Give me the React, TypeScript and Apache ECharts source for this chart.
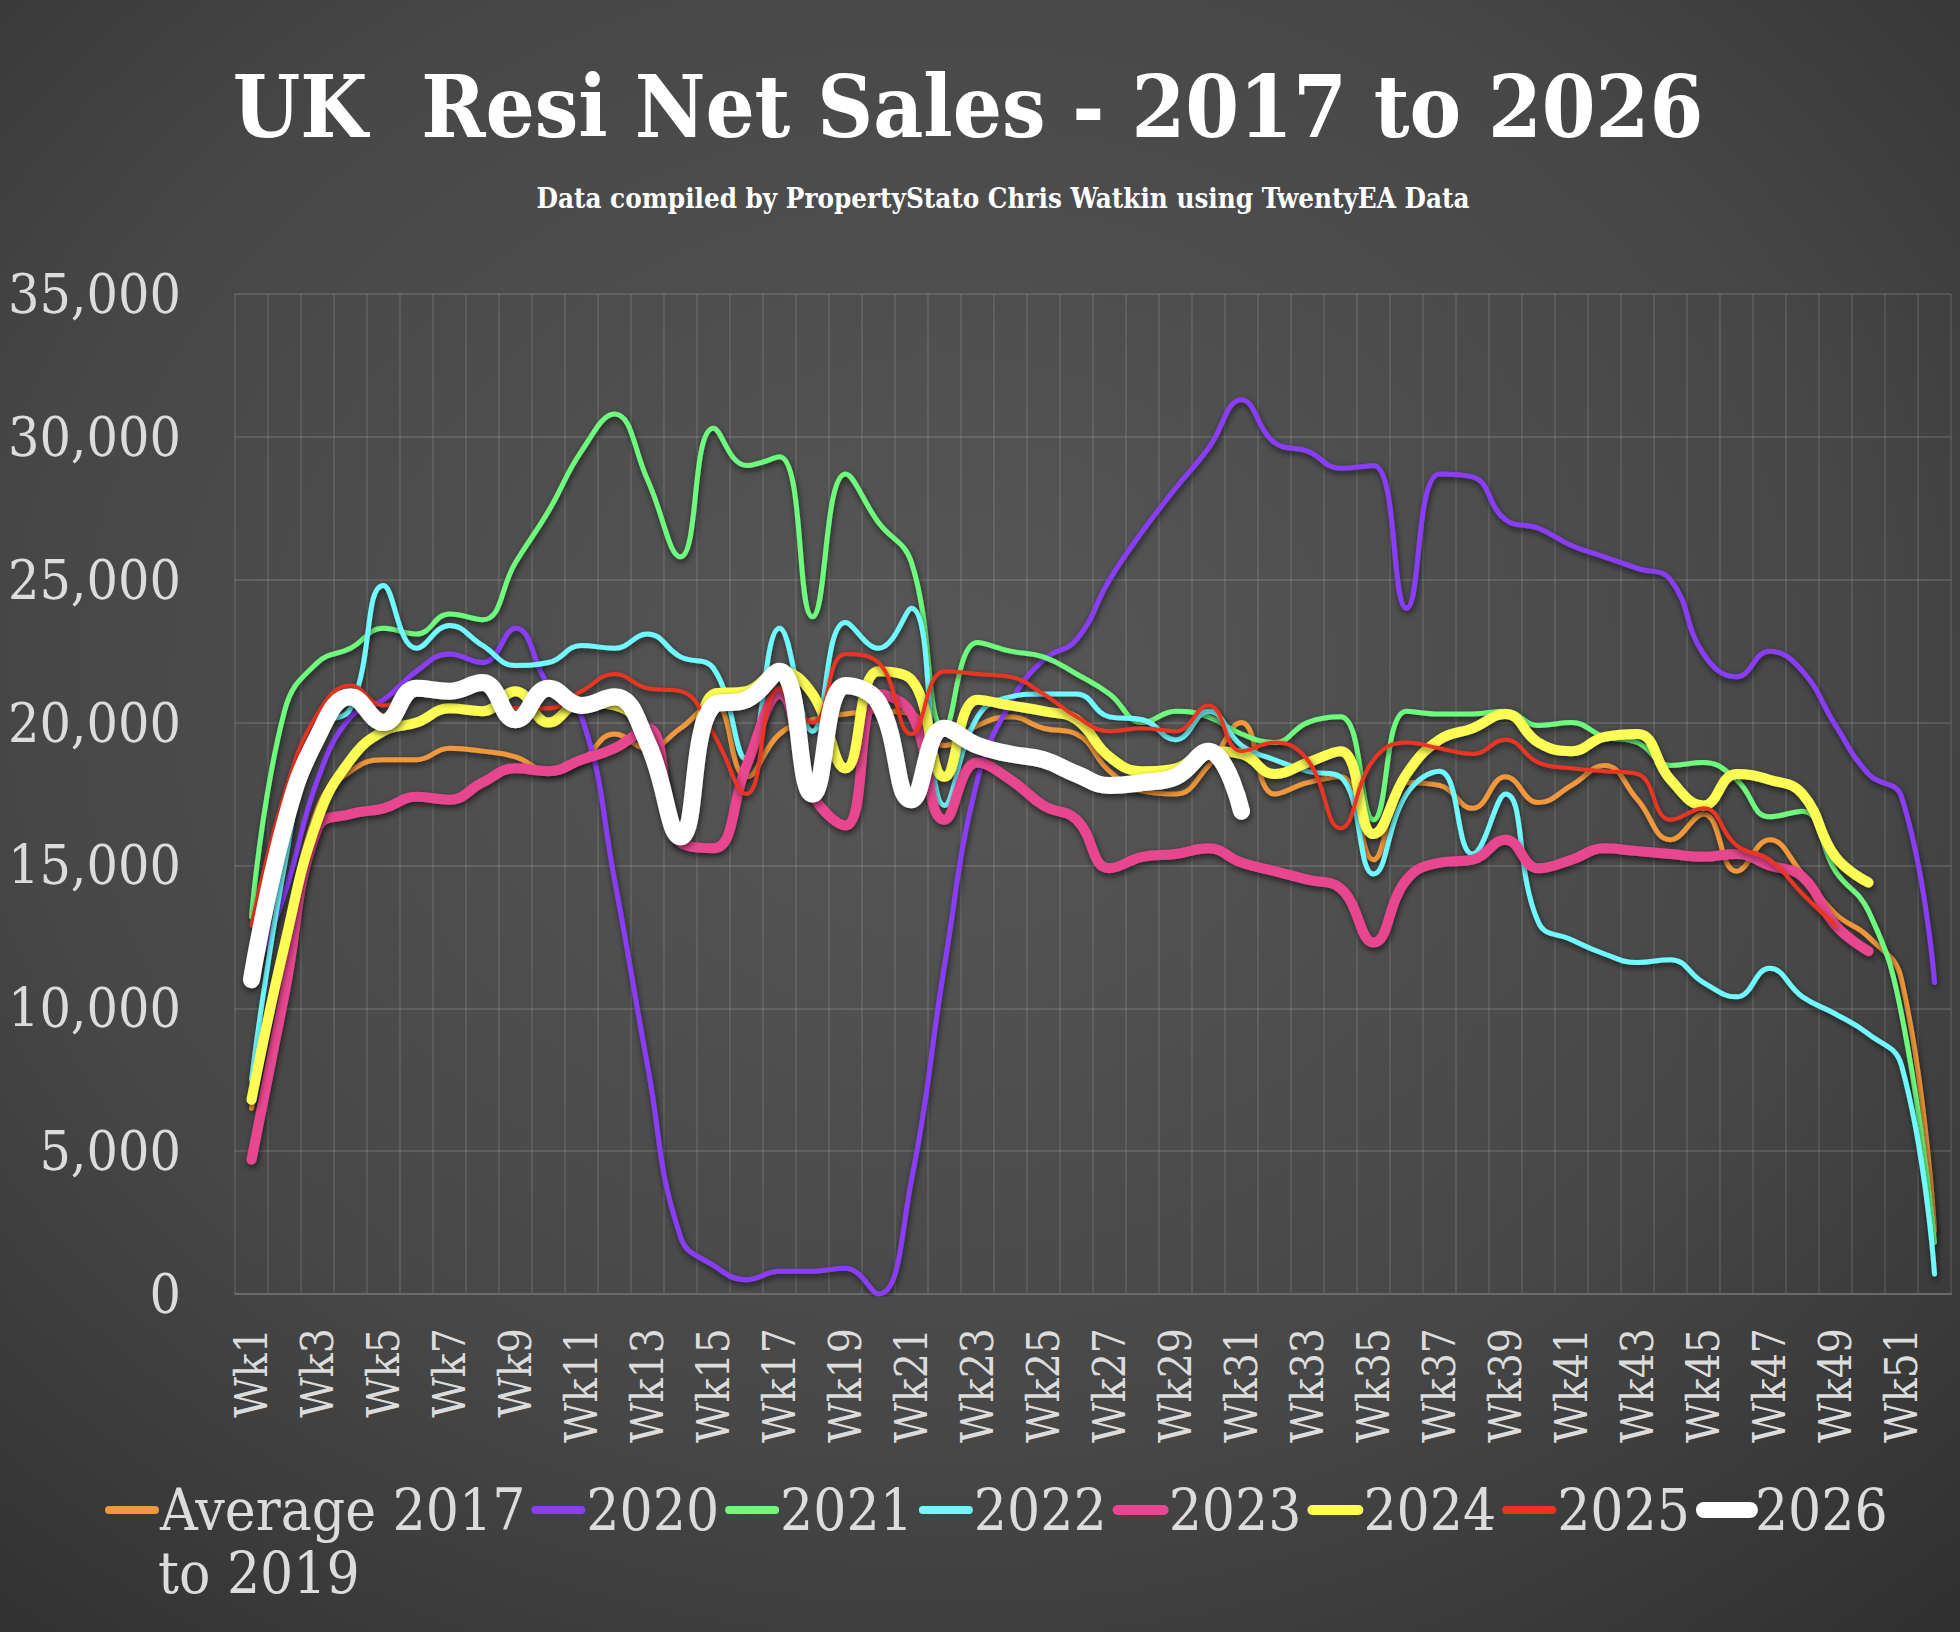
import { useEffect, useRef } from 'react';
import * as echarts from 'echarts';

const weeks = Array.from({ length: 52 }, (_, i) => `Wk${i + 1}`);

const seriesNames = ['Average 2017 to 2019', '2020', '2021', '2022', '2023', '2024', '2025', '2026'];

const avg2017to2019 = [
  6500, 12000, 17000, 18300, 18700, 18700, 19100, 19000, 18800, 18300,
  18700, 19600, 19100, 19800, 20700, 18100, 19600, 20100, 20300, 20400,
  20300, 19200, 19900, 20200, 19800, 19600, 18300, 17600, 17500, 18500,
  20000, 17500, 17900, 18100, 15200, 17900, 17800, 17000, 18100, 17200,
  17800, 18500, 17300, 15900, 16800, 14800, 15900, 14700, 13300, 12500,
  11000, 2200,
];
const y2020 = [
  11000, 14000, 18000, 20200, 20800, 21800, 22400, 22100, 23300, 21300,
  20200, 14500, 8000, 2000, 1000, 500, 800, 800, 900, 0,
  4000, 11500, 18000, 20700, 22200, 22900, 25000, 26700, 28200, 29600,
  31300, 29800, 29500, 28900, 29000, 24000, 28700, 28600, 27100, 26800,
  26200, 25800, 25400, 25000, 22400, 21600, 22500, 21800, 19900, 18200,
  17400, 10900,
];
const y2021 = [
  13200, 20400, 22100, 22600, 23300, 23100, 23800, 23600, 25600, 27400,
  29500, 30800, 28500, 25800, 30300, 29000, 29300, 23700, 28700, 27000,
  25600, 19800, 22800, 22500, 22300, 21700, 21000, 20000, 20400, 20200,
  19600, 19300, 20000, 20200, 16600, 20400, 20300, 20300, 20400, 19900,
  20000, 19500, 19300, 18500, 18600, 18000, 16700, 16900, 14800, 13400,
  9800, 1800,
];
const y2022 = [
  7500, 15000, 19800, 20500, 24800, 22600, 23400, 22700, 22000, 22100,
  22700, 22600, 23100, 22300, 21900, 18700, 23300, 19700, 23500, 22600,
  24000, 17100, 20200, 20900, 21000, 21000, 20200, 20100, 19400, 20400,
  19200, 18700, 18300, 18100, 14700, 17500, 18300, 15400, 17500, 13000,
  12400, 11900, 11600, 11700, 10900, 10400, 11400, 10400, 9800, 9100,
  8000, 700,
];
const y2023 = [
  4700, 10500, 16300, 16800, 17000, 17400, 17300, 17900, 18400, 18300,
  18700, 19100, 19800, 15800, 15600, 18500, 21000, 17500, 16400, 21000,
  20300, 16600, 18600, 18000, 17100, 16600, 14900, 15300, 15400, 15600,
  15100, 14800, 14500, 14200, 12300, 14500, 15100, 15200, 15900, 14900,
  15200, 15600, 15500, 15400, 15300, 15400, 15000, 14600, 12900, 12000,
];
const y2024 = [
  6800, 12200, 16600, 18700, 19700, 20000, 20500, 20400, 21100, 20000,
  20700, 20600, 19500, 16300, 21000, 21100, 21800, 21000, 18400, 21800,
  21500, 18100, 20800, 20600, 20400, 20100, 18800, 18300, 18400, 19000,
  18900, 18200, 18600, 19000, 16100, 18200, 19400, 19800, 20300, 19300,
  19000, 19500, 19600, 18000, 17100, 18200, 18000, 17500, 15300, 14400,
];
const y2025 = [
  12900, 17500, 20300, 21300, 20600, 21000, 21300, 21200, 20500, 20500,
  21100, 21700, 21200, 21100, 19600, 17500, 21200, 20000, 22400, 22100,
  19600, 21800, 21700, 21600, 21000, 20200, 19700, 19800, 19700, 20600,
  19000, 19300, 18700, 16300, 18700, 19300, 19100, 18900, 19400, 18600,
  18400, 18300, 18200, 16600, 17000, 15700, 15200, 14000, 12900,
];
const y2026 = [
  11000, 16400, 19500, 20900, 20000, 21200, 21100, 21400, 20100, 21200,
  20600, 20900, 19300, 16000, 20600, 20800, 21800, 17500, 21300, 20700,
  17300, 19800, 19200, 18900, 18700, 18200, 17800, 17900, 18100, 19000,
  16900,
];

const seriesValues = [avg2017to2019, y2020, y2021, y2022, y2023, y2024, y2025, y2026];
const seriesColors = ['#f0983a', '#8a3cf7', '#6efa7d', '#6ff9ff', '#e84690', '#fdfd54', '#e93423', '#ffffff'];
const seriesWidths = [5, 5, 5, 5, 10, 10, 4, 17];
const legendWidths = [8, 8, 8, 8, 10, 10, 8, 16];

const FONT = '"DejaVu Serif Condensed", "DejaVu Serif", serif';
const LABEL = '#dcdcdc';

const LEGEND_LEFT = 100;
const LEGEND_ICON_W = 46;
const LEGEND_Y = 1503;

export default function App() {
  const chartRef = useRef<HTMLDivElement>(null);

  useEffect(() => {
    document.body.style.margin = '0';
    if (!chartRef.current) return;
    const chart = echarts.init(chartRef.current, undefined, { renderer: 'svg' });

    const option: any = {
      animation: false,
      graphic: [
        {
          type: 'rect',
          z: -10,
          silent: true,
          shape: { x: 0, y: 0, width: 1960, height: 1632 },
          style: {
            fill: new echarts.graphic.RadialGradient(0.48, 0.42, 0.85, [
              { offset: 0, color: '#575757' },
              { offset: 0.55, color: '#474747' },
              { offset: 1, color: '#2a2a2a' },
            ]),
          },
        },
        {
          type: 'text',
          x: 968,
          y: 106,
          style: {
            text: 'UK  Resi Net Sales - 2017 to 2026',
            fill: '#ffffff',
            font: `bold 86px ${FONT}`,
            textAlign: 'center',
            textVerticalAlign: 'middle',
          },
        },
        {
          type: 'text',
          x: 1003,
          y: 198,
          style: {
            text: 'Data compiled by PropertyStato Chris Watkin using TwentyEA Data',
            fill: '#ffffff',
            font: `bold 27.5px ${FONT}`,
            textAlign: 'center',
            textVerticalAlign: 'middle',
          },
        },
        {
          // second line of the wrapped legend label "Average 2017 / to 2019"
          type: 'text',
          x: LEGEND_LEFT + LEGEND_ICON_W + 12,
          y: LEGEND_Y + 70,
          style: {
            text: 'to 2019',
            fill: LABEL,
            font: `58px ${FONT}`,
            textAlign: 'left',
            textVerticalAlign: 'middle',
          },
        },
      ],
      legend: {
        left: LEGEND_LEFT,
        top: LEGEND_Y - 32,
        itemWidth: LEGEND_ICON_W,
        itemHeight: 4,
        itemGap: 6,
        itemStyle: { opacity: 0, borderWidth: 0 },
        formatter: (name: string) => (name === seriesNames[0] ? 'Average 2017' : name),
        textStyle: { color: LABEL, fontSize: 58, fontFamily: FONT, lineHeight: 68 },
        data: seriesNames.map((name, i) => ({
          name,
          itemStyle: { opacity: 0 },
          lineStyle: { width: legendWidths[i], color: seriesColors[i], cap: 'round' },
        })),
      },
      grid: { left: 235, right: 9, top: 294, bottom: 338 },
      xAxis: {
        type: 'category',
        data: weeks,
        boundaryGap: true,
        axisLine: { lineStyle: { color: '#6a6a6a', width: 2 } },
        axisTick: { show: false },
        axisLabel: {
          interval: 1,
          rotate: 90,
          margin: 34,
          color: LABEL,
          fontSize: 44,
          fontFamily: FONT,
        },
        splitLine: { show: true, interval: 0, lineStyle: { color: 'rgba(255,255,255,0.13)', width: 1.5 } },
      },
      yAxis: {
        type: 'value',
        min: 0,
        max: 35000,
        interval: 5000,
        axisLine: { show: false },
        axisTick: { show: false },
        axisLabel: {
          margin: 54,
          color: LABEL,
          fontSize: 55,
          fontFamily: FONT,
          formatter: (v: number) => v.toLocaleString('en-US'),
        },
        splitLine: { lineStyle: { color: 'rgba(255,255,255,0.16)', width: 1.5 } },
      },
      series: seriesNames.map((name, i) => ({
        name,
        type: 'line',
        data: seriesValues[i],
        smooth: 0.45,
        symbol: 'none',
        connectNulls: false,
        lineStyle: {
          width: seriesWidths[i],
          color: seriesColors[i],
          cap: 'round',
          join: 'round',
          shadowColor: 'rgba(0,0,0,0.6)',
          shadowBlur: 6,
          shadowOffsetX: 1,
          shadowOffsetY: 3,
        },
        itemStyle: { color: seriesColors[i] },
      })),
    };

    chart.setOption(option);
    return () => {
      chart.dispose();
    };
  }, []);

  return <div ref={chartRef} style={{ width: 1960, height: 1632 }} />;
}
